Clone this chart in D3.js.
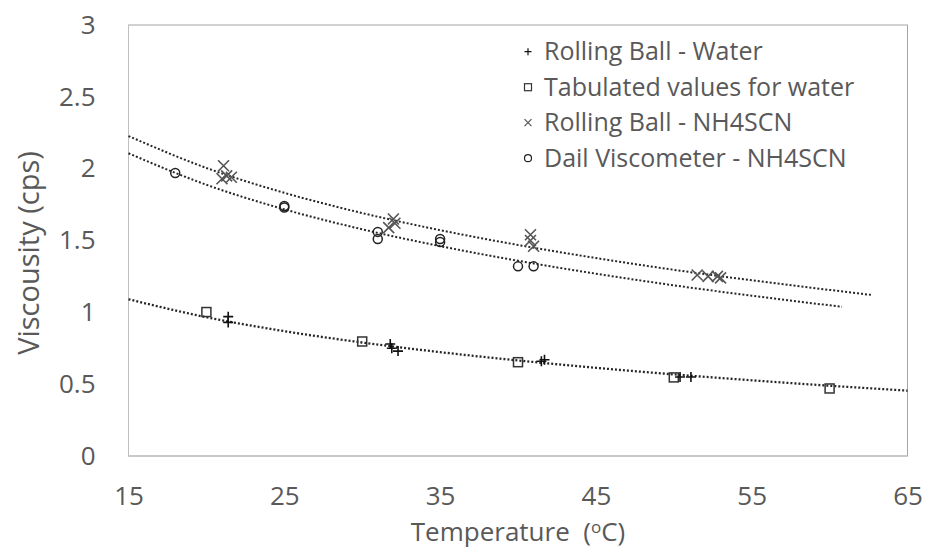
<!DOCTYPE html>
<html>
<head>
<meta charset="utf-8">
<script src="https://cdn.jsdelivr.net/npm/d3@7"></script>
<style>
  html, body { margin: 0; padding: 0; background: #fff; }
  svg { display: block; font-family: "Open Sans", "Noto Sans", sans-serif; }
</style>
</head>
<body>
<svg id="chart" width="926" height="550"></svg>
<script>
// ---- data ----
const xTicks = [15, 25, 35, 45, 55, 65];
const yTicks = [0, 0.5, 1, 1.5, 2, 2.5, 3];

const rbWaterX = [21.4, 21.4, 31.8, 31.9, 32.3, 41.5, 41.7, 50.4, 51.1];
const rbWaterY = [0.97, 0.93, 0.78, 0.75, 0.73, 0.66, 0.67, 0.55, 0.55];

const tabWaterX = [20, 30, 40, 50, 60];
const tabWaterY = [1.002, 0.797, 0.653, 0.547, 0.47];

const rbSaltX = [21.1, 21.0, 21.3, 21.6, 32.0, 32.1, 31.7, 40.8, 40.8, 41.0, 51.5, 52.2, 52.8, 53.0];
const rbSaltY = [2.02, 1.93, 1.95, 1.94, 1.65, 1.62, 1.59, 1.54, 1.50, 1.46, 1.26, 1.25, 1.25, 1.24];

const dailX = [18, 25, 25, 31, 31, 35, 35, 40, 41];
const dailY = [1.97, 1.74, 1.73, 1.56, 1.51, 1.51, 1.49, 1.32, 1.32];

// trendlines
const trendWaterX = [15, 20, 25, 30, 35, 40, 45, 50, 55, 60, 65];
const trendWaterY = [1.091, 0.966, 0.869, 0.790, 0.723, 0.665, 0.614, 0.568, 0.527, 0.489, 0.455];
const trendRbSaltX = [15, 20, 25, 30, 35, 40, 45, 50, 55, 60, 62.7];
const trendRbSaltY = [2.227, 2.005, 1.832, 1.691, 1.572, 1.469, 1.378, 1.296, 1.223, 1.156, 1.121];
const trendDailX = [15, 20, 25, 30, 35, 40, 45, 50, 55, 60, 60.8];
const trendDailY = [2.107, 1.888, 1.717, 1.578, 1.461, 1.359, 1.269, 1.188, 1.116, 1.049, 1.039];

const legendLabels = ["Rolling Ball - Water", "Tabulated values for water", "Rolling Ball - NH4SCN", "Dail Viscometer - NH4SCN"];
const legendSymbols = ["plus", "square", "cross", "circle"];

(function () {
// ---- layout ----
const svg = d3.select("#chart");
const pL = 128.5, pR = 907.5, pT = 25, pB = 456;
const x = d3.scaleLinear().domain([15, 65]).range([pL, pR]);
const y = d3.scaleLinear().domain([0, 3]).range([pB, pT]);
const textColor = "#595959";

// plot frame
svg.append("rect")
  .attr("x", pL).attr("y", pT)
  .attr("width", pR - pL).attr("height", pB - pT)
  .attr("fill", "none").attr("stroke", "#a6a6a6").attr("stroke-width", 1);
svg.append("line").attr("x1", pL).attr("x2", pL).attr("y1", pT).attr("y2", pB)
  .attr("stroke", "#bfbfbf");
svg.append("line").attr("x1", pL).attr("x2", pR).attr("y1", pB).attr("y2", pB)
  .attr("stroke", "#bfbfbf");

// axes
const yAxis = svg.append("g").attr("transform", `translate(${pL},0)`)
  .call(d3.axisLeft(y).tickValues(yTicks).tickSize(0).tickPadding(33).tickFormat(d3.format("")));
yAxis.select(".domain").remove();
yAxis.selectAll("text").attr("fill", textColor).style("font-size", "26px")
  .style("font-family", "'Open Sans', sans-serif");

const xAxis = svg.append("g").attr("transform", `translate(0,${pB})`)
  .call(d3.axisBottom(x).tickValues(xTicks).tickSize(0).tickFormat(d3.format("")));
xAxis.select(".domain").remove();
xAxis.selectAll("text").attr("fill", textColor).style("font-size", "26px")
  .style("font-family", "'Open Sans', sans-serif")
  .attr("y", 40).attr("dy", "0.35em");

// axis titles
const xt = svg.append("text")
  .attr("x", 518).attr("y", 532).attr("dy", "0.35em")
  .attr("text-anchor", "middle").attr("fill", textColor)
  .style("font-size", "26px").style("white-space", "pre");
xt.append("tspan").text("Temperature  (");
xt.append("tspan").text("o").style("font-size", "17px").attr("dy", "-0.5em");
xt.append("tspan").text("C)").attr("dy", "0.33em");

svg.append("text")
  .attr("transform", `translate(29,253) rotate(-90)`)
  .attr("dy", "0.35em")
  .attr("text-anchor", "middle").attr("fill", textColor)
  .style("font-size", "29px")
  .text("Viscousity (cps)");

// trendlines
const lineGen = d3.line().x(d => x(d[0])).y(d => y(d[1])).curve(d3.curveMonotoneX);
function drawTrend(xs, ys, w) {
  svg.append("path")
    .datum(xs.map((v, i) => [v, ys[i]]))
    .attr("d", lineGen)
    .attr("fill", "none").attr("stroke", "#262626")
    .attr("stroke-width", w).attr("stroke-dasharray", "2,2");
}
drawTrend(trendWaterX, trendWaterY, 2.3);
drawTrend(trendRbSaltX, trendRbSaltY, 2);
drawTrend(trendDailX, trendDailY, 2);

// marker drawing
function marker(g, type, cx, cy, s) {
  if (type === "plus") {
    g.append("path").attr("d", `M${cx - s},${cy}H${cx + s}M${cx},${cy - s}V${cy + s}`)
      .attr("stroke", "#111").attr("stroke-width", 1.6).attr("fill", "none");
  } else if (type === "square") {
    g.append("rect").attr("x", cx - s).attr("y", cy - s).attr("width", 2 * s).attr("height", 2 * s)
      .attr("stroke", "#333").attr("stroke-width", 1.5).attr("fill", "none");
  } else if (type === "cross") {
    g.append("path").attr("d", `M${cx - s},${cy - s}L${cx + s},${cy + s}M${cx - s},${cy + s}L${cx + s},${cy - s}`)
      .attr("stroke", "#555").attr("stroke-width", 1.6).attr("fill", "none");
  } else {
    g.append("circle").attr("cx", cx).attr("cy", cy).attr("r", s)
      .attr("stroke", "#222").attr("stroke-width", 1.5).attr("fill", "none");
  }
}

const pts = svg.append("g");
tabWaterX.forEach((v, i) => marker(pts, "square", x(v), y(tabWaterY[i]), 4.5));
rbWaterX.forEach((v, i) => marker(pts, "plus", x(v), y(rbWaterY[i]), 5));
dailX.forEach((v, i) => marker(pts, "circle", x(v), y(dailY[i]), 4.5));
rbSaltX.forEach((v, i) => marker(pts, "cross", x(v), y(rbSaltY[i]), 5.5));

// legend
const lg = svg.append("g");
legendLabels.forEach((lab, i) => {
  const cy = 51.7 + i * 35.5;
  marker(lg, legendSymbols[i], 528, cy, 3.5);
  lg.append("text").attr("x", 544).attr("y", cy).attr("dy", "0.35em")
    .attr("fill", textColor).style("font-size", "25px").text(lab);
});
lg.selectAll("path,rect,circle").attr("stroke-width", 1.2);
})();
</script>
</body>
</html>
